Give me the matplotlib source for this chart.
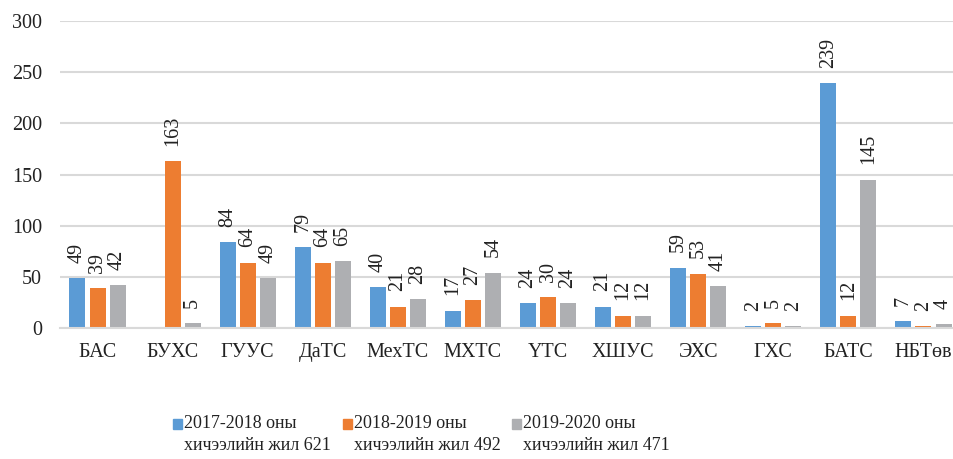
import numpy as np
import matplotlib.pyplot as plt
from matplotlib.patches import Rectangle

plt.rcParams['font.family'] = ['Liberation Serif', 'DejaVu Serif']

# Datos
categories = ['БАС', 'БУХС', 'ГУУС', 'ДаТС', 'МехТС', 'МХТС', 'ҮТС', 'ХШУС', 'ЭХС', 'ГХС', 'БАТС', 'НБТөв']
s2017 = [49, np.nan, 84, 79, 40, 17, 24, 21, 59, 2, 239, 7]
s2018 = [39, 163, 64, 64, 21, 27, 30, 12, 53, 5, 12, 2]
s2019 = [42, 5, 49, 65, 28, 54, 24, 12, 41, 2, 145, 4]
labels = ['2017-2018 оны\nхичээлийн жил 621',
          '2018-2019 оны\nхичээлийн жил 492',
          '2019-2020 оны\nхичээлийн жил 471']
colors = ['#5B9BD5', '#ED7D31', '#AEAFB2']

fig = plt.figure(figsize=(9.54, 4.59), dpi=100)
ax = fig.add_axes([60 / 954, 131 / 459, 901 / 954, 307 / 459])

x = np.arange(len(categories))
offs = [-0.267, 0, 0.267]
width = 0.213
fs = 14.5

for serie, off, col in zip([s2017, s2018, s2019], offs, colors):
    ax.bar(x + off, serie, width, color=col, zorder=2)
    for xi, v in zip(x + off, serie):
        if np.isnan(v):
            continue
        ax.annotate(str(int(v)), (xi, v), xytext=(0, 11), textcoords='offset points',
                    rotation=90, ha='center', va='bottom', fontsize=fs, color='#222222')

ax.set_xlim(-0.5, len(categories) - 0.5)
ax.set_ylim(0, 300)
ax.set_yticks(range(0, 301, 50))
ax.set_xticks(x)
ax.set_xticklabels(categories)
ax.grid(axis='y', color='#d9d9d9', linewidth=1.5, zorder=0)
ax.tick_params(axis='both', length=0, labelsize=fs, colors='#222222')
ax.tick_params(axis='y', pad=13)
ax.tick_params(axis='x', pad=11)
for side in ['top', 'right', 'left']:
    ax.spines[side].set_visible(False)
ax.spines['bottom'].set_color('#d9d9d9')
ax.spines['bottom'].set_linewidth(1.5)

# Leyenda manual
marker_x = [173, 343, 512]
for mx, lab, col in zip(marker_x, labels, colors):
    fig.patches.append(Rectangle((mx / 954, (459 - 429) / 459), 9 / 954, 10 / 459,
                                 transform=fig.transFigure, color=col, figure=fig))
    fig.text((mx + 11) / 954, (459 - 415) / 459, lab, fontsize=13, va='top', ha='left',
             color='#222222', linespacing=1.35)

plt.savefig('out.png', dpi=100)
